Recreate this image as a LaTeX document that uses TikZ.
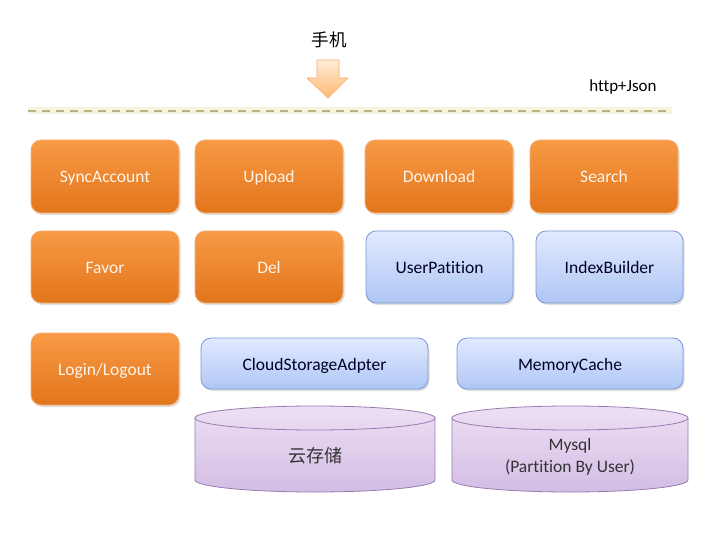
\documentclass[tikz,border=0pt]{standalone}
\usepackage{fontspec}
\setmainfont[Ligatures=NoCommon]{Carlito}
\newfontfamily\cjk{Noto Sans CJK SC}
\usetikzlibrary{shadows}
\definecolor{orT}{HTML}{F89A45}
\definecolor{orB}{HTML}{E2751C}
\definecolor{orD}{HTML}{F5B07A}
\definecolor{blT}{HTML}{E2EAFF}
\definecolor{blB}{HTML}{AFC6F4}
\definecolor{blD}{HTML}{7A97D4}
\definecolor{cyT}{HTML}{EDE0F4}
\definecolor{cyB}{HTML}{D3BDE4}
\definecolor{cyD}{HTML}{9A7BB0}
\definecolor{dashc}{HTML}{B5B585}
\definecolor{glow}{HTML}{F6F4E0}
\tikzset{
  obox/.style={draw=orD, line width=0.8pt, rounded corners=10pt, top color=orT, bottom color=orB,
     text=white!92!orange, font=\fontsize{17.5}{21}\selectfont, inner sep=0pt,
     text height=16pt, text depth=3pt,
     drop shadow={opacity=0.25, shadow xshift=1.5pt, shadow yshift=-2pt}},
  bbox/.style={draw=blD, line width=0.8pt, rounded corners=10pt, top color=blT, bottom color=blB,
     text=black!85!blue, font=\fontsize{17.5}{21}\selectfont, inner sep=0pt,
     text height=16pt, text depth=3pt,
     drop shadow={opacity=0.25, shadow xshift=1.5pt, shadow yshift=-2pt}},
  cyl/.style={draw=cyD, line width=0.8pt},
  cylfill/.style={top color=cyT, bottom color=cyB},
}
\begin{document}
\begin{tikzpicture}[x=1pt,y=-1pt]
\useasboundingbox (0,0) rectangle (720,540);
% top label and arrow
\node[font=\cjk\fontsize{17.5}{21}\selectfont] (phone) at (329,40) {手机};
\draw[draw=orD!90!orange, line width=0.6pt, top color=orange!15, bottom color=orange!55!white]
  (317,60) -- (339,60) -- (339,78) -- (348,78) -- (328,98) -- (307,78) -- (317,78) -- cycle;
\coordinate (arrowtip) at (328,98);
\node[font=\fontsize{17}{20}\selectfont] (http) at (623,87) {http+Json};
% dashed separator
\draw[glow, line width=7pt] (28,111) -- (672,111);
\draw[dashc, line width=2.6pt, dash pattern=on 8pt off 6pt] (28,111) -- (672,111);
% row 1
\node[obox, minimum width=148pt, minimum height=73pt] (sync) at (105,176.5) {SyncAccount};
\node[obox, minimum width=148pt, minimum height=73pt] (upload) at (269,176.5) {Upload};
\node[obox, minimum width=148pt, minimum height=73pt] (download) at (439,176.5) {Download};
\node[obox, minimum width=148pt, minimum height=73pt] (search) at (604,176.5) {Search};
% row 2
\node[obox, minimum width=148pt, minimum height=72pt] (favor) at (105,267) {Favor};
\node[obox, minimum width=148pt, minimum height=72pt] (del) at (269,267) {Del};
\node[bbox, minimum width=147pt, minimum height=72pt] (userp) at (439.5,267) {UserPatition};
\node[bbox, minimum width=147pt, minimum height=72pt] (index) at (609.5,267) {IndexBuilder};
% row 3
\node[obox, minimum width=148pt, minimum height=72pt] (login) at (105,369) {Login/Logout};
\node[bbox, minimum width=227pt, minimum height=51pt] (cloud) at (314.5,363.5) {CloudStorageAdpter};
\node[bbox, minimum width=226pt, minimum height=51pt] (memc) at (570,363.5) {MemoryCache};
% cylinders
\path[cylfill] (195,418) -- (195,480) arc[start angle=180,end angle=0,x radius=120,y radius=12]
  -- (435,418) arc[start angle=0,end angle=-180,x radius=120,y radius=12] -- cycle;
\draw[cyl] (195,418) -- (195,480) arc[start angle=180,end angle=0,x radius=120,y radius=12]
  -- (435,418);
\draw[cyl] (315,418) ellipse [x radius=120, y radius=12];
\node[font=\cjk\fontsize{18}{21}\selectfont, text=black!80] (yun) at (315,456) {云存储};
\path[cylfill] (452,418) -- (452,480) arc[start angle=180,end angle=0,x radius=118,y radius=12]
  -- (688,418) arc[start angle=0,end angle=-180,x radius=118,y radius=12] -- cycle;
\draw[cyl] (452,418) -- (452,480) arc[start angle=180,end angle=0,x radius=118,y radius=12]
  -- (688,418);
\draw[cyl] (570,418) ellipse [x radius=118, y radius=12];
\node[font=\fontsize{17.5}{22}\selectfont, text=black!80, align=center] (mysql) at (570,457) {Mysql\\(Partition By User)};
\end{tikzpicture}
\end{document}
